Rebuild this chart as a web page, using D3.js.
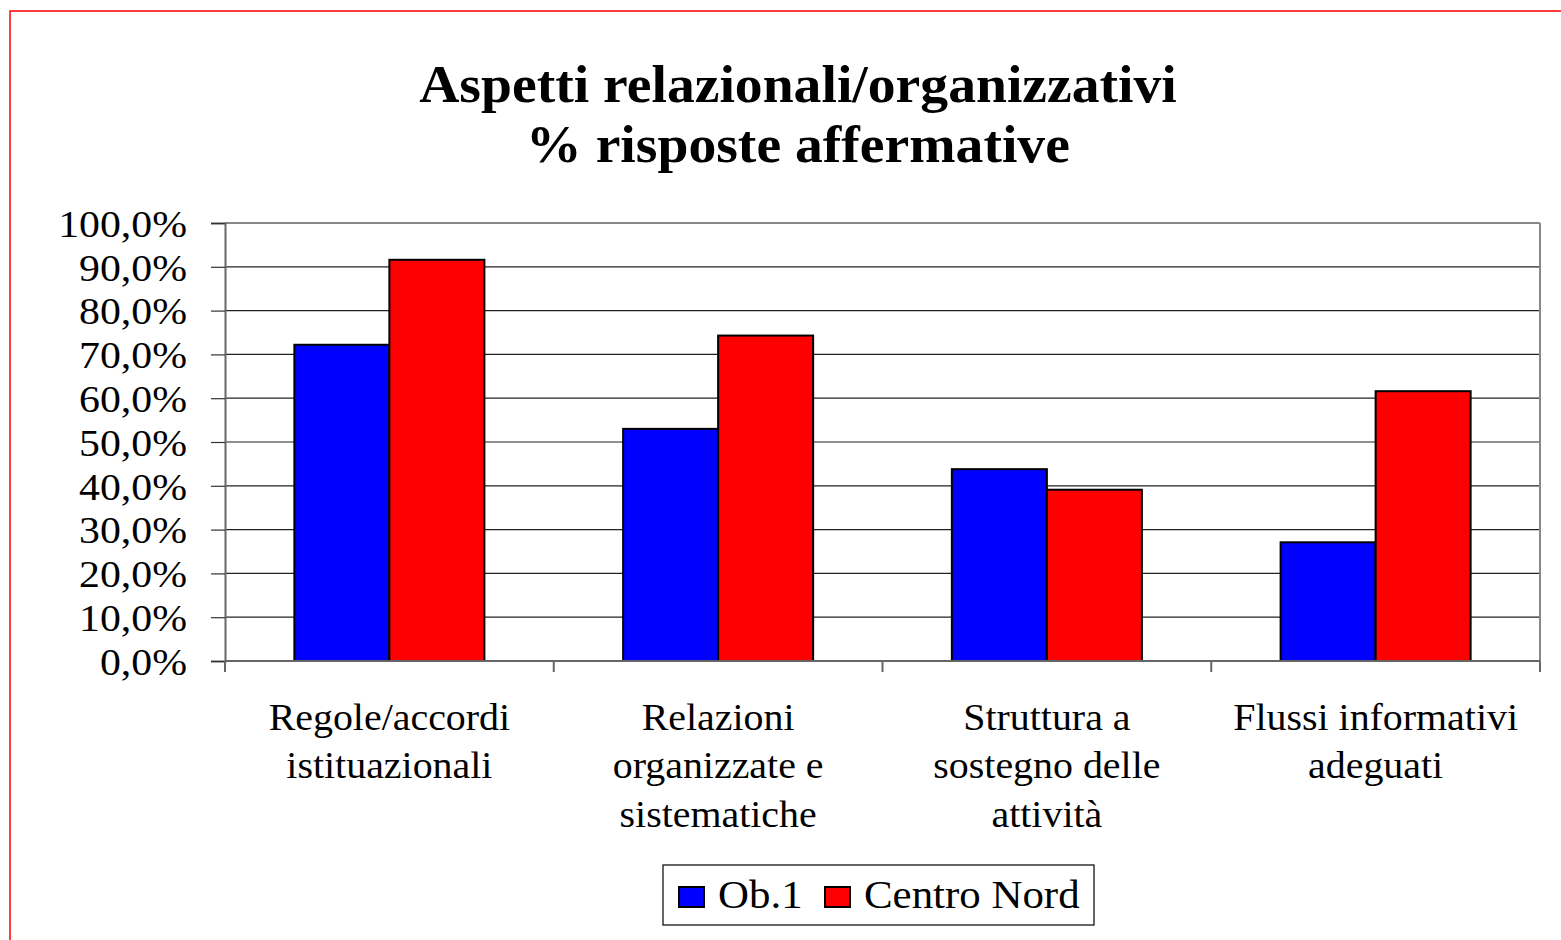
<!DOCTYPE html>
<html>
<head>
<meta charset="utf-8">
<script src="https://cdn.jsdelivr.net/npm/d3@7"></script>
<style>
  html, body { margin: 0; padding: 0; background: #fff; }
  svg { display: block; }
  text { font-family: "Liberation Serif", "Times New Roman", serif; fill: #000; }
</style>
</head>
<body>
<svg id="chart" width="1561" height="940"></svg>
<script>
const categories = [
  ["Regole/accordi", "istituazionali"],
  ["Relazioni", "organizzate e", "sistematiche"],
  ["Struttura a", "sostegno delle", "attività"],
  ["Flussi informativi", "adeguati"]
];
const seriesNames = ["Ob.1", "Centro Nord"];
const seriesColors = ["#0000ff", "#ff0000"];
const ob1Values = [72.2, 53.0, 43.8, 27.1];
const centroNordValues = [91.6, 74.3, 39.1, 61.6];
const yTicks = [0, 10, 20, 30, 40, 50, 60, 70, 80, 90, 100];
const titleLines = ["Aspetti relazionali/organizzativi", "% risposte affermative"];

(function () {
const svg = d3.select("#chart");
const pL = 225, pR = 1540, pT = 223, pB = 661;

// horizontal stretch of a text around its own x anchor
function hstretch(sel, k) {
  sel.attr("transform", function () {
    const x0 = +(this.getAttribute("x") || 0);
    const prev = this.getAttribute("transform") || "";
    return `${prev} translate(${x0},0) scale(${k},1) translate(${-x0},0)`;
  });
}

// outer red frame
svg.append("rect").attr("x", 10).attr("y", 11).attr("width", 1600).attr("height", 1000)
  .attr("fill", "none").attr("stroke", "#ff0000").attr("stroke-width", 1.5);

// title
const tt = svg.append("g").selectAll("text").data(titleLines).join("text")
  .attr("x", 798).attr("y", (d, i) => 102 + i * 60)
  .attr("text-anchor", "middle").attr("font-weight", "bold").attr("font-size", 52)
  .text(d => d);
hstretch(tt, 1.07);

const x = d3.scaleBand().domain(d3.range(categories.length)).range([pL, pR]).paddingInner(0).paddingOuter(0);
const y = d3.scaleLinear().domain([0, 100]).range([pB, pT]);
const groupWidth = x.bandwidth() * 0.578;
const xs = d3.scaleBand().domain(d3.range(seriesNames.length)).range([0, groupWidth]);

// gridlines
svg.append("g").selectAll("line").data(yTicks.filter(t => t > 0 && t < 100)).join("line")
  .attr("x1", pL).attr("x2", pR).attr("y1", d => y(d)).attr("y2", d => y(d))
  .attr("stroke", "#222").attr("stroke-width", 1.2);

// plot border top/right
svg.append("line").attr("x1", pL).attr("x2", pR).attr("y1", pT).attr("y2", pT)
  .attr("stroke", "#888").attr("stroke-width", 2);
svg.append("line").attr("x1", pR).attr("x2", pR).attr("y1", pT).attr("y2", pB)
  .attr("stroke", "#888").attr("stroke-width", 2);

// y axis
const yAxis = d3.axisLeft(y).tickValues(yTicks).tickSize(14).tickPadding(24)
  .tickFormat(d => d3.format(".1f")(d).replace(".", ",") + "%");
const gy = svg.append("g").attr("transform", `translate(${pL},0)`).call(yAxis);
gy.select(".domain").attr("stroke", "#666").attr("stroke-width", 2);
gy.selectAll(".tick line").attr("stroke", "#333").attr("stroke-width", 1.2);
const yt = gy.selectAll(".tick text").attr("font-size", 38).attr("font-family", "Liberation Serif")
  .attr("fill", "#000").attr("dy", "0.35em");
hstretch(yt, 1.1);

// bars
const data = categories.map((c, i) => [ob1Values[i], centroNordValues[i]]);
const groups = svg.append("g").selectAll("g").data(data).join("g")
  .attr("transform", (d, i) => `translate(${x(i) + (x.bandwidth() - groupWidth) / 2},0)`);
groups.selectAll("rect").data(d => d).join("rect")
  .attr("x", (d, j) => xs(j)).attr("width", xs.bandwidth())
  .attr("y", d => y(d)).attr("height", d => pB - y(d))
  .attr("fill", (d, j) => seriesColors[j]).attr("stroke", "#000").attr("stroke-width", 2);

// x axis
svg.append("line").attr("x1", pL).attr("x2", pR).attr("y1", pB).attr("y2", pB)
  .attr("stroke", "#666").attr("stroke-width", 2);
svg.append("g").selectAll("line").data(d3.range(categories.length + 1)).join("line")
  .attr("x1", d => pL + d * x.bandwidth()).attr("x2", d => pL + d * x.bandwidth())
  .attr("y1", pB).attr("y2", pB + 11).attr("stroke", "#666").attr("stroke-width", 2);

const labels = svg.append("g").selectAll("text").data(categories).join("text")
  .attr("text-anchor", "middle").attr("font-size", 38)
  .attr("transform", (d, i) => `translate(${x(i) + x.bandwidth() / 2},0) scale(1.05,1)`);
labels.selectAll("tspan").data(d => d).join("tspan")
  .attr("x", 0).attr("y", (d, k) => 730 + k * 48.5).text(d => d);

// legend
const lg = svg.append("g");
lg.append("rect").attr("x", 663).attr("y", 865).attr("width", 431).attr("height", 60)
  .attr("fill", "#fff").attr("stroke", "#000").attr("stroke-width", 1.2);
const legendX = [679, 825];
seriesNames.forEach((s, i) => {
  lg.append("rect").attr("x", legendX[i]).attr("y", 887).attr("width", 25).attr("height", 20)
    .attr("fill", seriesColors[i]).attr("stroke", "#000").attr("stroke-width", 2);
  const t = lg.append("text").attr("x", legendX[i] + 39).attr("y", 908).attr("font-size", 39).text(s);
  hstretch(t, 1.1);
});
})();
</script>
</body>
</html>
